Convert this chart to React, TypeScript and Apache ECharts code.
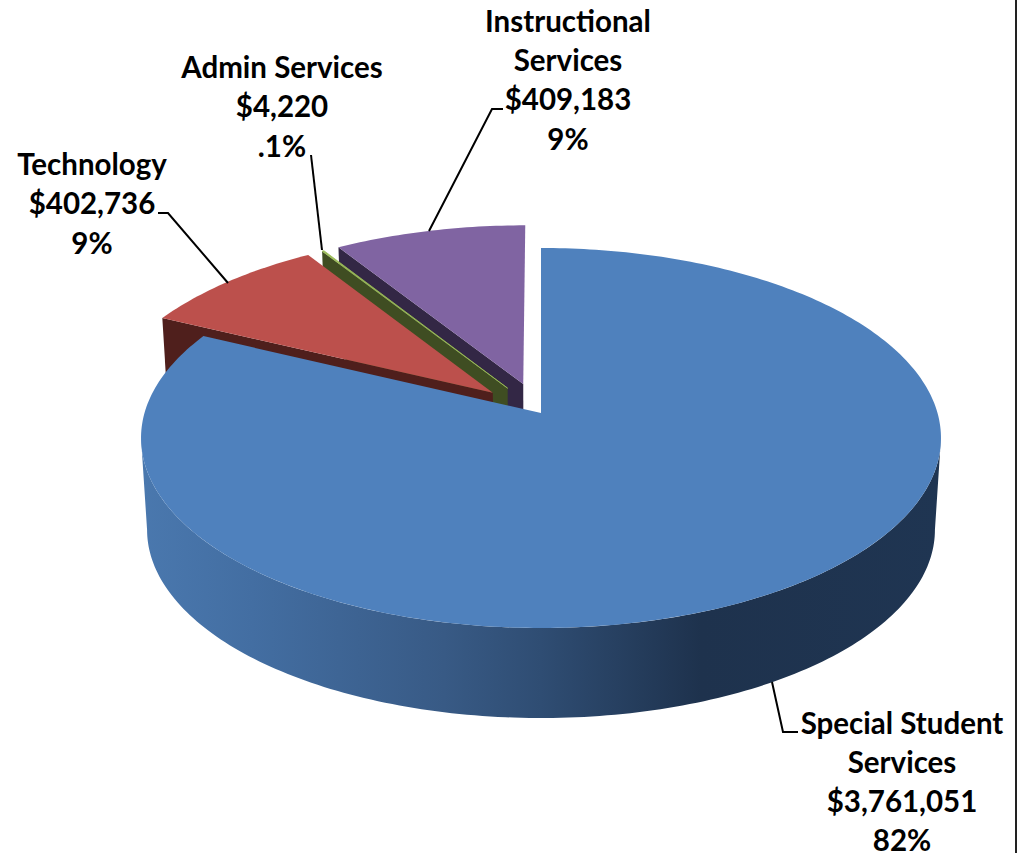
import React, { useEffect, useRef } from "react";
import * as echarts from "echarts";

const categories = ["Special Student Services", "Technology", "Admin Services", "Instructional Services"];
const amounts = [3761051, 402736, 4220, 409183];
const amountLabels = ["$3,761,051", "$402,736", "$4,220", "$409,183"];
const percentLabels = ["82%", "9%", ".1%", "9%"];
const topColors = ["#4F81BD", "#BC504C", "#9BBB59", "#8064A2"];
const wallColors = ["#1F3552", "#4F1F1C", "#3F4D22", "#332745"];
const explosion = [0, 0.165, 0.16, 0.165];

const CX = 541;
const K = 0.1316;
const TOP = { x0: CX, y0: 413, a: 396.5, b: 186.7 };
const BOTTOM = { x0: CX, y0: 505, a: 390.5, b: 185 };

type Plane = typeof TOP;
const project = (p: Plane, u: number, v: number): number[] => {
  const d = 1 - K * v;
  return [p.x0 + (p.a * u) / d, p.y0 + (p.b * v) / d];
};
const rad = (deg: number) => (deg * Math.PI) / 180;

const total = amounts.reduce((s, v) => s + v, 0);
const startAngle = (i: number) => (amounts.slice(0, i).reduce((s, v) => s + v, 0) / total) * 360;

const rim = (p: Plane, from: number, to: number, ox: number, ov: number) => {
  const n = Math.max(2, Math.ceil(Math.abs(to - from)));
  const pts: number[][] = [];
  for (let j = 0; j <= n; j++) {
    const t = rad(from + ((to - from) * j) / n);
    pts.push(project(p, Math.sin(t) + ox, -Math.cos(t) + ov));
  }
  return pts;
};

const renderSlice = (params: any, api: any) => {
  const i = params.dataIndex;
  const value = api.value(0);
  const t0 = startAngle(i);
  const t1 = t0 + (value / total) * 360;
  const mid = rad((t0 + t1) / 2);
  const ox = explosion[i] * Math.sin(mid);
  const ov = -explosion[i] * Math.cos(mid);
  const z = i === 0 ? 4 : 4 - i;
  const children: any[] = [];
  const edge = Math.acos(-K) * (180 / Math.PI);
  if (i === 0) {
    const topArc = rim(TOP, edge, 360 - edge, 0, 0);
    const bottomArc = rim(BOTTOM, 360 - edge, edge, 0, 0);
    children.push({
      type: "polygon",
      z2: 10 * z,
      shape: { points: [...topArc, ...bottomArc] },
      style: {
        fill: {
          type: "linear",
          x: 140,
          y: 0,
          x2: 941,
          y2: 0,
          global: true,
          colorStops: [
            { offset: 0, color: "#4A78AE" },
            { offset: 0.14, color: "#436EA2" },
            { offset: 0.38, color: "#385A85" },
            { offset: 0.5, color: "#2F4D73" },
            { offset: 0.7, color: "#1E324D" },
            { offset: 1, color: "#1F3552" },
          ],
        },
      },
    });
  } else {
    const a = rad(t0);
    children.push({
      type: "polygon",
      z2: 10 * z,
      shape: {
        points: [
          project(TOP, ox, ov),
          project(TOP, Math.sin(a) + ox, -Math.cos(a) + ov),
          project(BOTTOM, Math.sin(a) + ox, -Math.cos(a) + ov),
          project(BOTTOM, ox, ov),
        ],
      },
      style: { fill: wallColors[i] },
    });
  }
  children.push({
    type: "polygon",
    z2: 10 * z + 1,
    shape: { points: [project(TOP, ox, ov), ...rim(TOP, t0, t1, ox, ov)] },
    style: { fill: topColors[i], stroke: i === 2 ? topColors[i] : undefined, lineWidth: i === 2 ? 0.8 : 0 },
  });
  return { type: "group", children };
};

const FONT = 'bold 29.5px Lato, "Noto Sans", sans-serif';
const labelText = (text: string, x: number, y: number) => ({
  type: "text",
  x,
  y,
  z: 20,
  style: { text, font: FONT, fill: "#000", textAlign: "center", textVerticalAlign: "middle" },
});
const leader = (points: number[][]) => ({
  type: "polyline",
  z: 20,
  shape: { points },
  style: { stroke: "#000", lineWidth: 2, fill: "none" },
});

const labelBlock = (lines: string[], x: number, y: number, step: number) =>
  lines.map((t, j) => labelText(t, x, y + j * step));

export default function App() {
  const ref = useRef<HTMLDivElement>(null);
  useEffect(() => {
    const chart = echarts.init(ref.current!, undefined, { renderer: "svg" });
    const [special, instructional] = [categories[0], categories[3]];
    chart.setOption({
      animation: false,
      backgroundColor: "#ffffff",
      series: [
        {
          type: "custom",
          coordinateSystem: "none",
          name: "Budget",
          silent: true,
          clip: false,
          data: amounts.map((v, i) => ({ name: categories[i], value: [v] })),
          renderItem: renderSlice,
        },
      ],
      graphic: {
        elements: [
          ...labelBlock(
            [special.split(" ").slice(0, 2).join(" "), special.split(" ")[2], amountLabels[0], percentLabels[0]],
            902, 722, 39.2
          ),
          ...labelBlock([categories[1], amountLabels[1], percentLabels[1]], 92, 163, 39.5),
          ...labelBlock([categories[2], amountLabels[2], percentLabels[2]], 282, 66, 39.5),
          ...labelBlock(
            [instructional.split(" ")[0], instructional.split(" ")[1], amountLabels[3], percentLabels[3]],
            568, 20.5, 39.2
          ),
          leader([[158, 213], [168, 213], [228, 283]]),
          leader([[311, 155], [322, 250]]),
          leader([[503, 109], [492, 109], [429, 231]]),
          leader([[772, 682], [783, 732], [798, 732]]),
          { type: "rect", z: 30, shape: { x: 1015, y: 0, width: 2, height: 853 }, style: { fill: "#222222" } },
        ],
      },
    });
    return () => chart.dispose();
  }, []);
  return (
    <div
      ref={ref}
      style={{ position: "fixed", left: 0, top: 0, width: 1017, height: 853, background: "#fff" }}
    />
  );
}
